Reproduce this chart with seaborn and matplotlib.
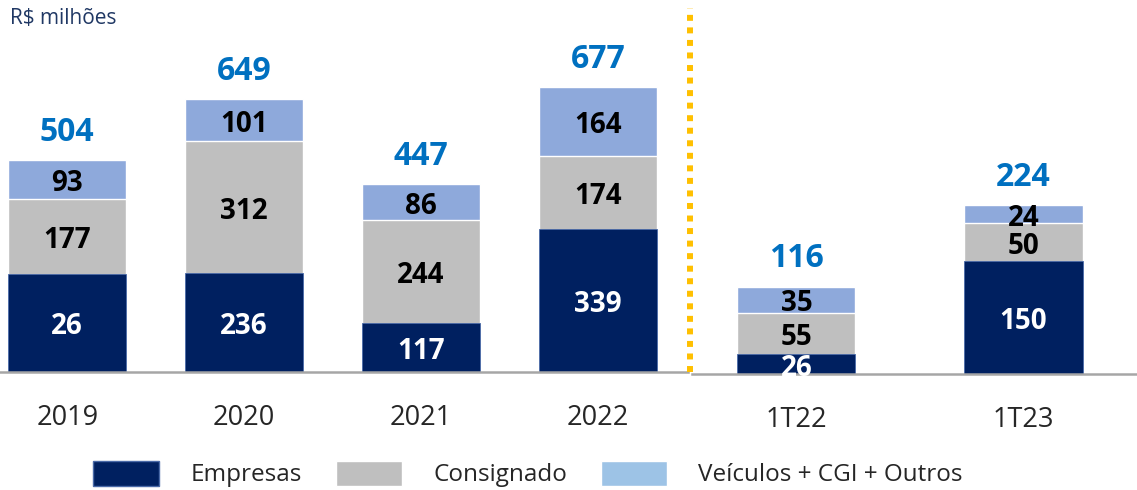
import numpy as np
import seaborn as sns
import matplotlib.pyplot as plt
from matplotlib.lines import Line2D
from matplotlib.patches import Patch

# annual panel
anos = ['2019', '2020', '2021', '2022']
emp_anos = [234, 236, 117, 339]          # bar height as drawn
emp_anos_txt = ['26', '236', '117', '339']  # label as printed
cons_anos = [177, 312, 244, 174]
veic_anos = [93, 101, 86, 164]
tot_anos = [504, 649, 447, 677]

# quarterly panel
tri = ['1T22', '1T23']
emp_tri = [26, 150]
emp_tri_txt = ['26', '150']
cons_tri = [55, 50]
veic_tri = [35, 24]
tot_tri = [116, 224]

NAVY = '#002060'
GRAY = '#BFBFBF'
LBLUE = '#8EA9DB'
TOTAL = '#0070C0'


def rotulo(ax, x, y, txt, cor):
    ax.annotate(txt, (x, y), xytext=(0, -3), textcoords='offset points',
                ha='center', va='center', color=cor, fontsize=20,
                fontweight='bold')


def painel(ax, cats, emp, emp_txt, cons, veic, tot, width, ymax, xlim):
    emp = np.array(emp)
    cons = np.array(cons)
    veic = np.array(veic)
    # stacked by drawing cumulative heights back to front
    sns.barplot(x=cats, y=emp + cons + veic, color=LBLUE, width=width,
                saturation=1, ax=ax)
    sns.barplot(x=cats, y=emp + cons, color=GRAY, width=width,
                saturation=1, ax=ax)
    sns.barplot(x=cats, y=emp, color=NAVY, width=width,
                saturation=1, ax=ax, edgecolor='#4a6aa8', linewidth=0.6)

    for i in range(len(cats)):
        rotulo(ax, i, emp[i] / 2, emp_txt[i], 'white')
        rotulo(ax, i, emp[i] + cons[i] / 2, str(cons[i]), 'black')
        rotulo(ax, i, emp[i] + cons[i] + veic[i] / 2, str(veic[i]), 'black')
        ax.annotate(str(tot[i]), (i, emp[i] + cons[i] + veic[i]),
                    xytext=(0, 8), textcoords='offset points', ha='center',
                    va='bottom', color=TOTAL, fontsize=23, fontweight='bold')

    ax.set_ylim(0, ymax)
    ax.set_xlim(*xlim)
    ax.set_yticks([])
    ax.set_xlabel('')
    ax.set_ylabel('')
    for s in ['top', 'right', 'left']:
        ax.spines[s].set_visible(False)
    ax.spines['bottom'].set_color('#A6A6A6')
    ax.spines['bottom'].set_linewidth(1.8)
    ax.tick_params(axis='x', length=0, pad=23, labelsize=19.5)
    ax.set_facecolor('none')


def main():
    sns.set_style('white')
    plt.rcParams['font.family'] = ['Open Sans', 'DejaVu Sans']

    W, H = 1137, 490
    fig = plt.figure(figsize=(W / 100, H / 100), dpi=100)

    ax1 = fig.add_axes([0, (H - 372) / H, 688 / W, 372 / H])
    ax2 = fig.add_axes([692 / W, (H - 374) / H, 445 / W, 374 / H])

    painel(ax1, anos, emp_anos, emp_anos_txt, cons_anos, veic_anos, tot_anos,
           0.667, 884, (-0.38, 3.51))
    painel(ax2, tri, emp_tri, emp_tri_txt, cons_tri, veic_tri, tot_tri,
           0.52, 496, (-0.46, 1.50))

    fig.add_artist(Line2D([690 / W, 690 / W], [(H - 372) / H, (H - 8) / H],
                          transform=fig.transFigure, color='#FFC000',
                          linewidth=4.3, linestyle=(0, (1, 1.1))))

    fig.text(10 / W, (H - 18) / H, 'R$ milhões', color='#203864',
             fontsize=15, va='center', ha='left')

    handles = [Patch(facecolor=NAVY, edgecolor='#4a6aa8', label='Empresas'),
               Patch(facecolor=GRAY, label='Consignado'),
               Patch(facecolor='#9DC3E6', label='Veículos + CGI + Outros')]
    fig.legend(handles=handles, loc='center', ncol=3,
               bbox_to_anchor=(528 / W, 16 / H), frameon=False, fontsize=17.5,
               handlelength=2.7, handleheight=1.2, handletextpad=1.3,
               columnspacing=1.4)

    plt.savefig('out.png', dpi=100)


if __name__ == '__main__':
    main()
